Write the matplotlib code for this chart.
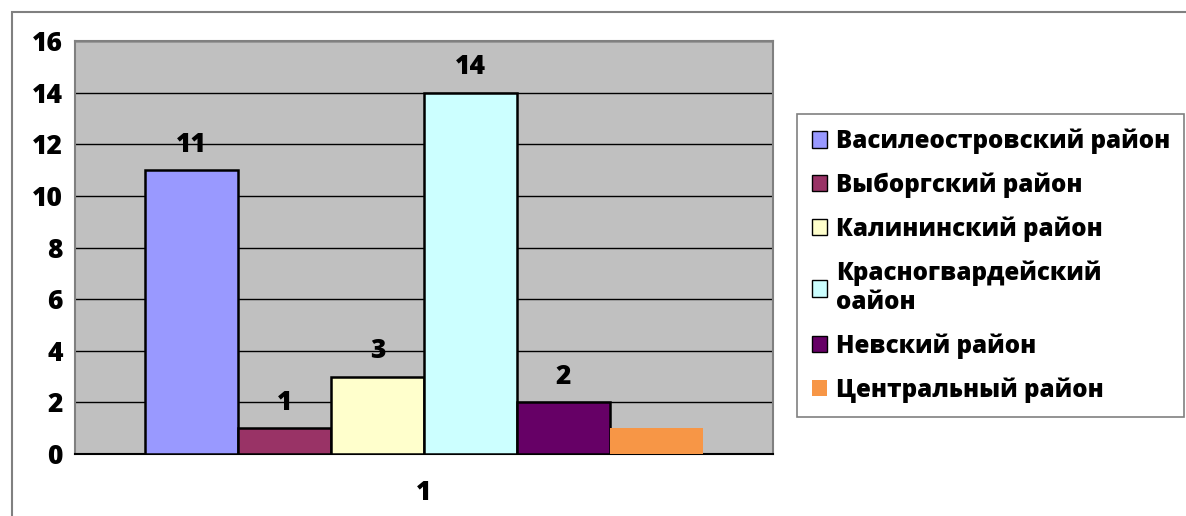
import matplotlib
matplotlib.use("Agg")
import matplotlib.pyplot as plt
from matplotlib.patches import Rectangle

plt.rcParams['font.family'] = ['Open Sans', 'DejaVu Sans']
BOLD = 800

districts = ["Василеостровский район", "Выборгский район", "Калининский район",
             "Красногвардейский\nоайон", "Невский район", "Центральный район"]
values = [11, 1, 3, 14, 2, 1]
labels = ["11", "1", "3", "14", "2", ""]
colors = ["#9999FF", "#993366", "#FFFFCC", "#CCFFFF", "#660066", "#F79646"]
edges = ["black", "black", "black", "black", "black", "none"]
category = "1"
yticks = [0, 2, 4, 6, 8, 10, 12, 14, 16]

W, H = 1186, 516
fig = plt.figure(figsize=(W / 100, H / 100), dpi=100)

# outer chart frame
fig.patches.append(Rectangle((12 / W, -0.1), 1.2, 1 - 12 / H + 0.1, transform=fig.transFigure,
                             fill=False, edgecolor="#808080", linewidth=1.5))

ax = fig.add_axes([75 / W, 1 - 454 / H, (773 - 75) / W, (454 - 41) / H])
ax.set_facecolor("#C0C0C0")
ax.set_xlim(-0.5, 0.5)
ax.set_ylim(0, 16)
ax.set_yticks(yticks)
ax.set_yticklabels([str(t) for t in yticks], fontsize=19, fontweight=BOLD)
ax.set_xticks([0])
ax.set_xticklabels([category], fontsize=19, fontweight=BOLD)
ax.tick_params(axis="y", length=0, pad=9)
ax.tick_params(axis="x", length=0, pad=19)
ax.grid(axis="y", color="black", linewidth=1)
ax.set_axisbelow(True)
for s in ax.spines.values():
    s.set_color("#808080")
    s.set_linewidth(1.5)
ax.spines["bottom"].set_color("black")

n = len(values)
bw = 0.8 / n
handles = []
for i, (v, c, e, lab, name) in enumerate(zip(values, colors, edges, labels, districts)):
    x = -0.4 + bw * (i + 0.5)
    b = ax.bar(x, v, width=bw, color=c, edgecolor=e, linewidth=1.8 if e != "none" else 0,
               label=name, zorder=3)
    handles.append(b)
    if lab:
        ax.annotate(lab, (x, v), xytext=(0, 9), textcoords="offset points",
                    ha="center", va="bottom", fontsize=19, fontweight=BOLD)

leg = fig.legend(handles=[h for h in handles], labels=districts,
                 loc="upper left", bbox_to_anchor=(797 / W, 1 - 114 / H),
                 fontsize=17.4, frameon=True, fancybox=False, handlelength=0.65,
                 handleheight=0.65, handletextpad=0.35, labelspacing=0.76,
                 borderpad=0.6, borderaxespad=0)
leg.get_frame().set_edgecolor("#606060")
leg.get_frame().set_linewidth(1.2)
for t in leg.get_texts():
    t.set_fontweight(BOLD)
    t.set_linespacing(1.22)
for p in leg.get_patches():
    p.set_linewidth(1.0)

fig.savefig("out.png", dpi=100)
